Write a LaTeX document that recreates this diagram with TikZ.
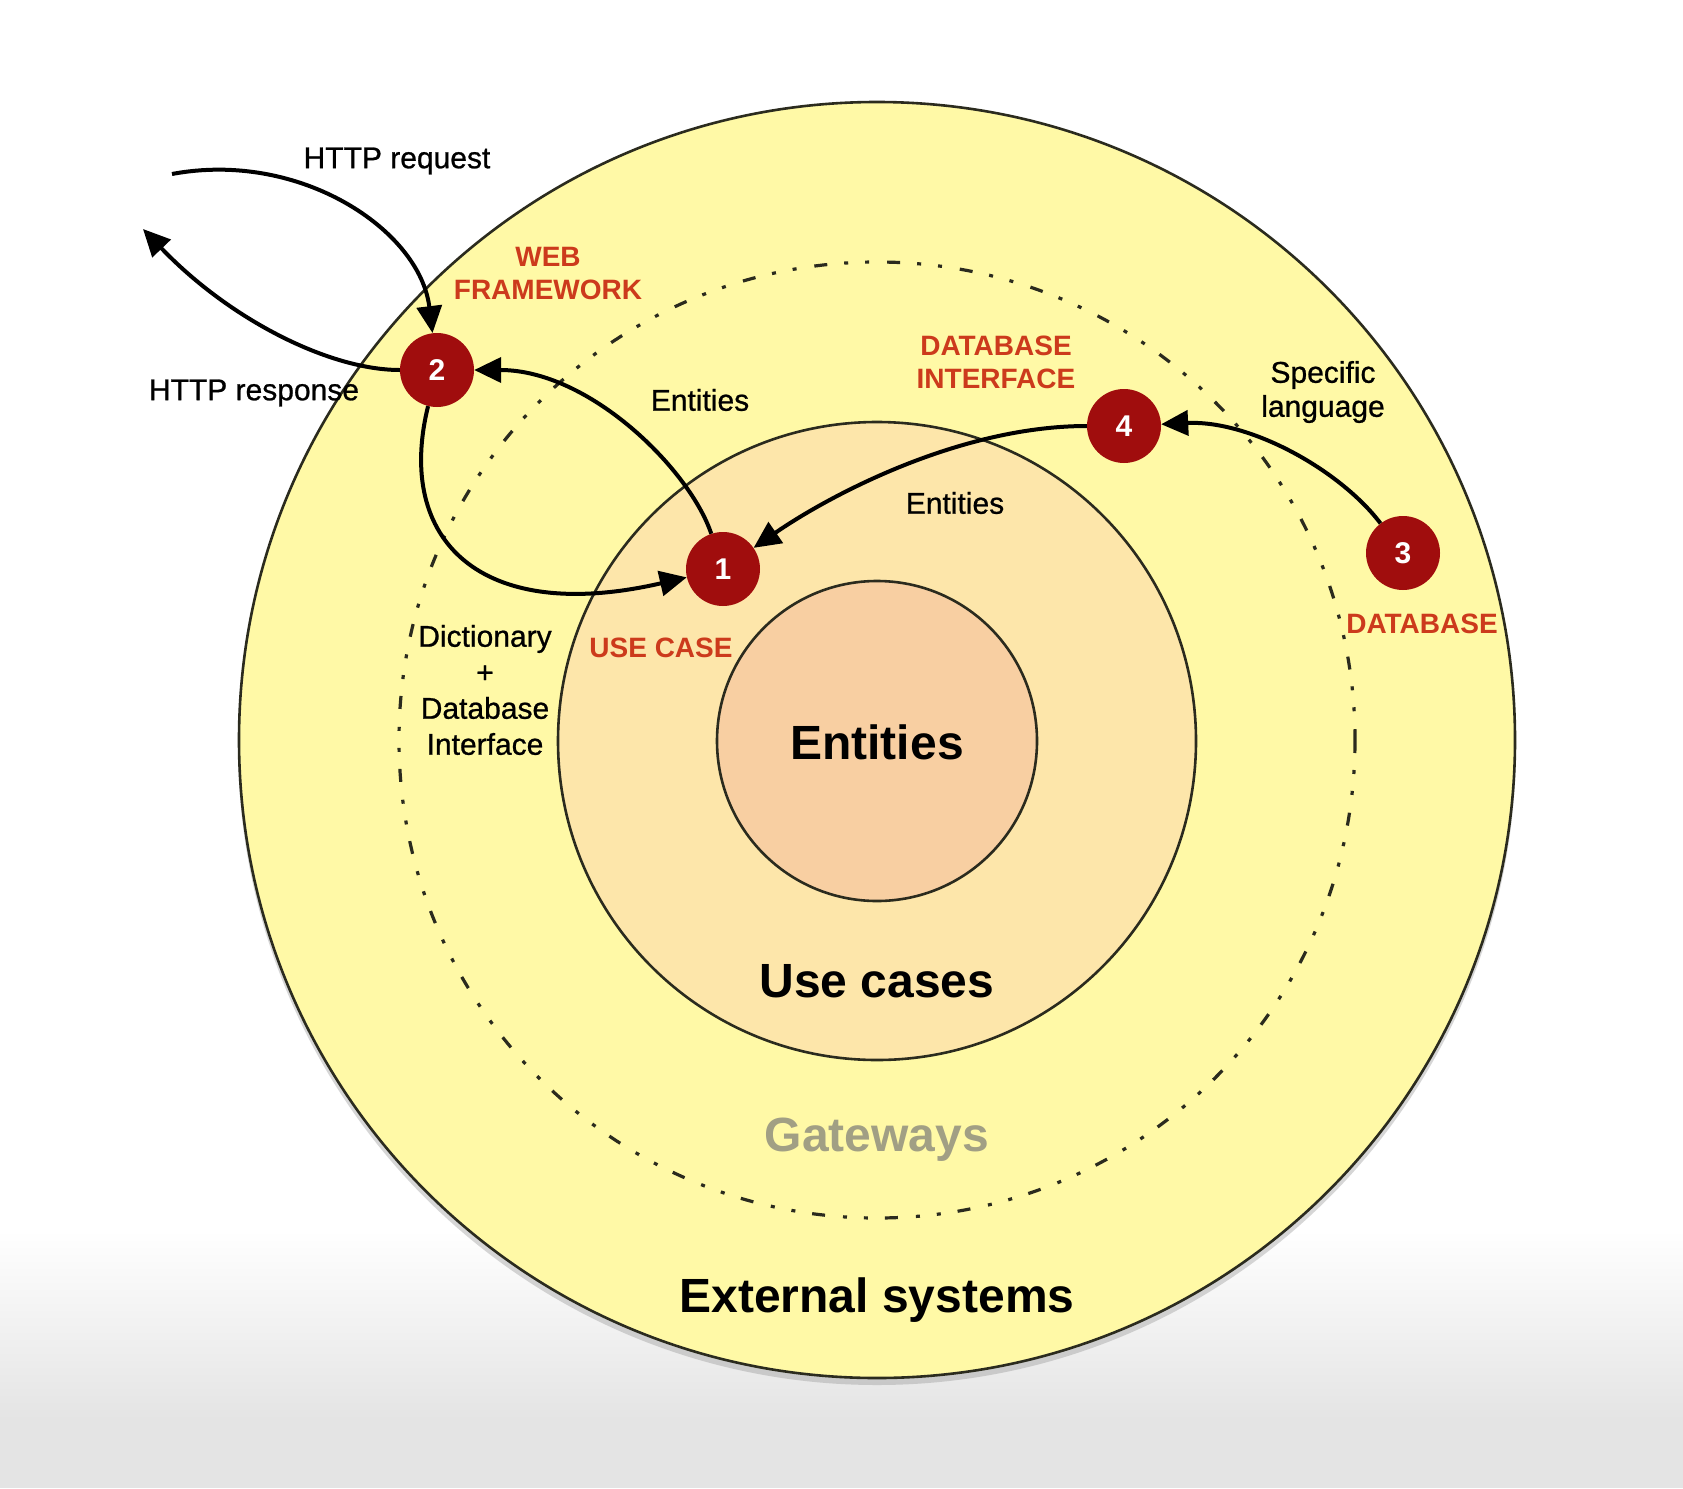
\documentclass[tikz,border=0pt]{standalone}
\usepackage{fontspec}
\setmainfont{Liberation Sans}
\usetikzlibrary{arrows.meta}
\definecolor{outerfill}{HTML}{FFF9A6}
\definecolor{usefill}{HTML}{FDE6AA}
\definecolor{entfill}{HTML}{F8CFA2}
\definecolor{steprd}{HTML}{A00D0D}
\definecolor{labelred}{HTML}{CC3A1C}
\definecolor{gatewaygray}{HTML}{A19F84}
\definecolor{ringline}{HTML}{2B2B1E}
\definecolor{bgbottom}{HTML}{E4E4E4}
\begin{document}
\begin{tikzpicture}[x=1pt,y=-1pt,
  ring/.style={draw=ringline,line width=2.6pt},
  stepnode/.style={circle,fill=steprd,minimum size=74pt,inner sep=0pt,
    text=white,font=\fontsize{30}{30}\selectfont\bfseries},
  flow/.style={line width=4pt,-{Triangle[length=27pt,width=25pt]}},
  smalltxt/.style={font=\fontsize{30}{34}\selectfont\addfontfeature{FakeBold=0.8},align=center,text=black},
  redtxt/.style={font=\fontsize{28}{33}\selectfont\bfseries,align=center,text=labelred},
  bigtxt/.style={font=\fontsize{48}{52}\selectfont\bfseries,text=black}]
% page and background
\useasboundingbox (0,0) rectangle (1683,1488);
\fill[white] (0,0) rectangle (1683,1488);
\shade[top color=white,bottom color=bgbottom] (0,1230) rectangle (1683,1420);
\fill[bgbottom] (0,1419) rectangle (1683,1488);
% layers
\fill[black!45,opacity=0.35] (877,746) circle[radius=639];
\filldraw[ring,fill=outerfill] (877,740) circle[radius=638];
\draw[ringline,line width=3.2pt,
  dash pattern=on 13pt off 17pt on 4pt off 17pt on 4pt off 18pt] (877,740) circle[radius=478];
\filldraw[ring,fill=usefill] (877,741) circle[radius=319];
\filldraw[ring,fill=entfill] (877,741) circle[radius=160];
% layer titles
\node[bigtxt] (tEnt) at (877,742) {Entities};
\node[bigtxt] (tUse) at (877,981) {Use cases};
\node[bigtxt,text=gatewaygray] (tGate) at (877,1140) {Gateways};
\node[bigtxt] (tExt) at (877,1300) {External systems};
% steps
\node[stepnode] (n2) at (437,370) {2};
\node[stepnode] (n1) at (723,569) {1};
\node[stepnode] (n4) at (1124,426) {4};
\node[stepnode] (n3) at (1403,553) {3};
% free ends of the HTTP arrows
\coordinate (reqStart) at (172,174);
\coordinate (respEnd) at (143,229);
% connectors
\draw[flow] (reqStart) .. controls (300,150) and (420,230) .. (n2);
\draw[flow] (n2) .. controls (330,370) and (230,320) .. (respEnd);
\draw[flow] (n1) .. controls (690,470) and (590,370) .. (n2);
\draw[flow] (n2) .. controls (395,540) and (480,625) .. (n1);
\draw[flow] (n4) .. controls (960,426) and (830,495) .. (n1);
\draw[flow] (n3) .. controls (1340,470) and (1250,420) .. (n4);
% labels
\node[smalltxt] (lReq) at (397,161) {HTTP request};
\node[smalltxt] (lResp) at (254,393) {HTTP response};
\node[redtxt] (lWeb) at (548,274) {WEB\\FRAMEWORK};
\node[smalltxt] (lEnt1) at (700,400) {Entities};
\node[redtxt] (lDbi) at (996,362) {DATABASE\\INTERFACE};
\node[smalltxt] (lSpec) at (1323,392) {Specific\\language};
\node[smalltxt] (lEnt2) at (955,503) {Entities};
\node[redtxt] (lDb) at (1422,624) {DATABASE};
\node[redtxt] (lUse) at (661,648) {USE CASE};
\node[smalltxt,font=\fontsize{30}{36}\selectfont\addfontfeature{FakeBold=0.8}] (lDict) at (485,690) {Dictionary\\+\\Database\\Interface};
\end{tikzpicture}
\end{document}
